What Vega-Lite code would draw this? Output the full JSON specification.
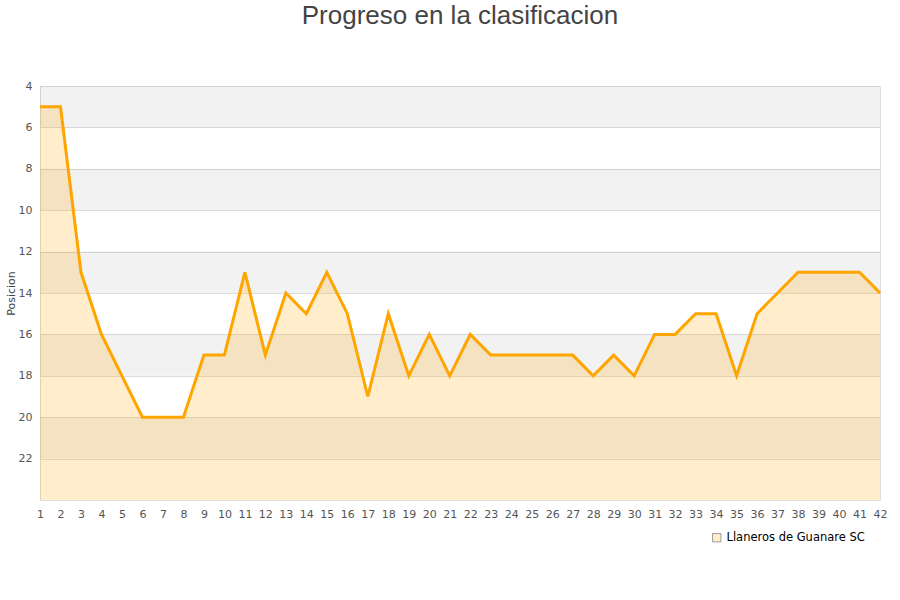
{
  "$schema": "https://vega.github.io/schema/vega-lite/v6.json",
  "autosize": "none",
  "padding": {"left": 40, "top": 86, "right": 20, "bottom": 100},
  "width": 840,
  "height": 414,
  "background": "white",
  "title": {
    "text": "Progreso en la clasificacion",
    "anchor": "middle",
    "font": "Liberation Sans",
    "fontSize": 26,
    "fontWeight": "normal",
    "color": "#444444",
    "offset": 51
  },
  "config": {
    "view": {"stroke": "#dddddd", "strokeWidth": 1},
    "axis": {"labelFont": "DejaVu Sans", "labelFontSize": 11, "labelColor": "#555555", "titleFont": "DejaVu Sans", "titleFontWeight": "normal", "titleColor": "#444444", "titleFontSize": 11},
    "axisX": {"labelOverlap": false, "labelFlush": false}
  },
  "datasets": {
    "bands": [
      {"desde": 4, "hasta": 6},
      {"desde": 8, "hasta": 10},
      {"desde": 12, "hasta": 14},
      {"desde": 16, "hasta": 18},
      {"desde": 20, "hasta": 22}
    ],
    "progreso": [
      {"jornada": 1, "posicion": 5, "equipo": "Llaneros de Guanare SC"},
      {"jornada": 2, "posicion": 5, "equipo": "Llaneros de Guanare SC"},
      {"jornada": 3, "posicion": 13, "equipo": "Llaneros de Guanare SC"},
      {"jornada": 4, "posicion": 16, "equipo": "Llaneros de Guanare SC"},
      {"jornada": 5, "posicion": 18, "equipo": "Llaneros de Guanare SC"},
      {"jornada": 6, "posicion": 20, "equipo": "Llaneros de Guanare SC"},
      {"jornada": 7, "posicion": 20, "equipo": "Llaneros de Guanare SC"},
      {"jornada": 8, "posicion": 20, "equipo": "Llaneros de Guanare SC"},
      {"jornada": 9, "posicion": 17, "equipo": "Llaneros de Guanare SC"},
      {"jornada": 10, "posicion": 17, "equipo": "Llaneros de Guanare SC"},
      {"jornada": 11, "posicion": 13, "equipo": "Llaneros de Guanare SC"},
      {"jornada": 12, "posicion": 17, "equipo": "Llaneros de Guanare SC"},
      {"jornada": 13, "posicion": 14, "equipo": "Llaneros de Guanare SC"},
      {"jornada": 14, "posicion": 15, "equipo": "Llaneros de Guanare SC"},
      {"jornada": 15, "posicion": 13, "equipo": "Llaneros de Guanare SC"},
      {"jornada": 16, "posicion": 15, "equipo": "Llaneros de Guanare SC"},
      {"jornada": 17, "posicion": 19, "equipo": "Llaneros de Guanare SC"},
      {"jornada": 18, "posicion": 15, "equipo": "Llaneros de Guanare SC"},
      {"jornada": 19, "posicion": 18, "equipo": "Llaneros de Guanare SC"},
      {"jornada": 20, "posicion": 16, "equipo": "Llaneros de Guanare SC"},
      {"jornada": 21, "posicion": 18, "equipo": "Llaneros de Guanare SC"},
      {"jornada": 22, "posicion": 16, "equipo": "Llaneros de Guanare SC"},
      {"jornada": 23, "posicion": 17, "equipo": "Llaneros de Guanare SC"},
      {"jornada": 24, "posicion": 17, "equipo": "Llaneros de Guanare SC"},
      {"jornada": 25, "posicion": 17, "equipo": "Llaneros de Guanare SC"},
      {"jornada": 26, "posicion": 17, "equipo": "Llaneros de Guanare SC"},
      {"jornada": 27, "posicion": 17, "equipo": "Llaneros de Guanare SC"},
      {"jornada": 28, "posicion": 18, "equipo": "Llaneros de Guanare SC"},
      {"jornada": 29, "posicion": 17, "equipo": "Llaneros de Guanare SC"},
      {"jornada": 30, "posicion": 18, "equipo": "Llaneros de Guanare SC"},
      {"jornada": 31, "posicion": 16, "equipo": "Llaneros de Guanare SC"},
      {"jornada": 32, "posicion": 16, "equipo": "Llaneros de Guanare SC"},
      {"jornada": 33, "posicion": 15, "equipo": "Llaneros de Guanare SC"},
      {"jornada": 34, "posicion": 15, "equipo": "Llaneros de Guanare SC"},
      {"jornada": 35, "posicion": 18, "equipo": "Llaneros de Guanare SC"},
      {"jornada": 36, "posicion": 15, "equipo": "Llaneros de Guanare SC"},
      {"jornada": 37, "posicion": 14, "equipo": "Llaneros de Guanare SC"},
      {"jornada": 38, "posicion": 13, "equipo": "Llaneros de Guanare SC"},
      {"jornada": 39, "posicion": 13, "equipo": "Llaneros de Guanare SC"},
      {"jornada": 40, "posicion": 13, "equipo": "Llaneros de Guanare SC"},
      {"jornada": 41, "posicion": 13, "equipo": "Llaneros de Guanare SC"},
      {"jornada": 42, "posicion": 14, "equipo": "Llaneros de Guanare SC"}
    ]
  },
  "layer": [
    {
      "data": {"name": "bands"},
      "mark": {"type": "rect", "color": "#000000", "opacity": 0.05},
      "encoding": {
        "y": {"field": "desde", "type": "quantitative", "scale": {"domain": [4, 24], "reverse": true, "nice": false, "zero": false}},
        "y2": {"field": "hasta"}
      }
    },
    {
      "data": {"name": "progreso"},
      "mark": {"type": "area", "color": "#ffa500", "opacity": 0.2},
      "encoding": {
        "x": {
          "field": "jornada", "type": "quantitative",
          "scale": {"domain": [1, 42], "nice": false, "zero": false},
          "axis": {"title": null, "values": [1,2,3,4,5,6,7,8,9,10,11,12,13,14,15,16,17,18,19,20,21,22,23,24,25,26,27,28,29,30,31,32,33,34,35,36,37,38,39,40,41,42], "grid": false, "ticks": false, "domain": false, "labelPadding": 8, "labelFlush": false, "labelOverlap": false}
        },
        "y": {
          "field": "posicion", "type": "quantitative",
          "axis": {"title": "Posicion", "values": [4,6,8,10,12,14,16,18,20,22], "grid": true, "gridColor": "#dddddd", "ticks": false, "domain": false, "labelPadding": 8, "titlePadding": 2}
        },
        "y2": {"datum": 24}
      }
    },
    {
      "data": {"name": "progreso"},
      "mark": {"type": "line", "color": "#ffa500", "strokeWidth": 3},
      "encoding": {
        "x": {
          "field": "jornada", "type": "quantitative",
          "axis": {"title": null, "values": [1,2,3,4,5,6,7,8,9,10,11,12,13,14,15,16,17,18,19,20,21,22,23,24,25,26,27,28,29,30,31,32,33,34,35,36,37,38,39,40,41,42], "grid": false, "ticks": false, "domain": false, "labelPadding": 8, "labelFlush": false, "labelOverlap": false}
        },
        "y": {"field": "posicion", "type": "quantitative"}
      }
    },
    {
      "data": {"name": "progreso"},
      "mark": {"type": "square", "filled": true, "opacity": 0, "stroke": "#999999", "strokeWidth": 1, "size": 1},
      "encoding": {
        "x": {
          "field": "jornada", "type": "quantitative",
          "axis": {"title": null, "values": [1,2,3,4,5,6,7,8,9,10,11,12,13,14,15,16,17,18,19,20,21,22,23,24,25,26,27,28,29,30,31,32,33,34,35,36,37,38,39,40,41,42], "grid": false, "ticks": false, "domain": false, "labelPadding": 8, "labelFlush": false, "labelOverlap": false}
        },
        "y": {"field": "posicion", "type": "quantitative"},
        "fill": {
          "field": "equipo", "type": "nominal",
          "scale": {"range": ["#ffedcc"]},
          "legend": {
            "title": null, "orient": "none", "legendX": 671, "legendY": 446,
            "symbolType": "square", "symbolSize": 70, "symbolOpacity": 1,
            "symbolStrokeColor": "#999999", "symbolStrokeWidth": 1,
            "labelFont": "DejaVu Sans", "labelFontSize": 11.5, "labelColor": "#000000",
            "encode": {"symbols": {"update": {"opacity": {"value": 1}, "stroke": {"value": "#999999"}, "strokeWidth": {"value": 1}}}}
          }
        }
      }
    }
  ]
}
